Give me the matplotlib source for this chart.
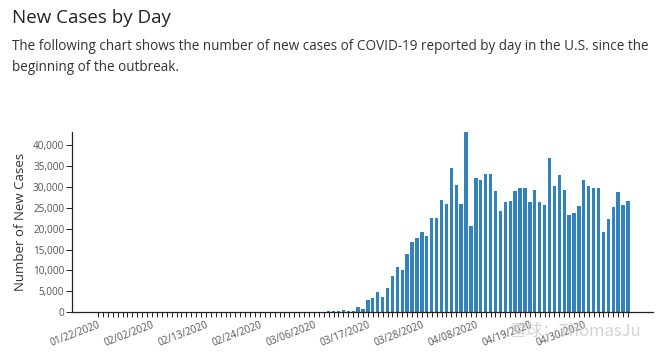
import pandas as pd
import numpy as np
import matplotlib
matplotlib.use("Agg")
import matplotlib.pyplot as plt
from matplotlib.ticker import FuncFormatter

plt.rcParams['font.family'] = ['Open Sans', 'DejaVu Sans']

# daily new cases, 01/22/2020 .. 05/09/2020
start_date = '2020-01-22'
jan_cases = [0, 0, 1, 0, 1, 0, 0, 0, 0, 1]
feb_cases = [0, 1, 0, 0, 1, 0, 0, 0, 0, 1, 1, 0, 1, 0, 0, 0, 0, 0, 0, 0,
             2, 0, 1, 2, 5, 3, 3, 4, 6]
mar_cases = [5, 10, 20, 25, 30, 40, 50, 60, 250, 350, 250, 400, 300, 350,
             1200, 700, 2800, 3400, 4700, 3500, 5800, 8700, 10800, 10100,
             14000, 16900, 17800, 19200, 18200, 22500, 22500]
apr_cases = [26900, 25900, 34600, 30600, 25900, 43300, 20600, 32200, 31600,
             33100, 33100, 29000, 24200, 26300, 26700, 29000, 29800, 29800,
             26300, 29400, 26300, 25700, 37000, 30200, 32800, 29200, 23400,
             23800, 25400, 31700]
may_cases = [30200, 29800, 29800, 19100, 22300, 25100, 28800, 25800, 26600]

cases = jan_cases + feb_cases + mar_cases + apr_cases + may_cases
dates = pd.date_range(start_date, periods=len(cases), freq='D')
date_labels = dates.strftime('%m/%d/%Y')
label_every = 11

y_ticks = [0, 5000, 10000, 15000, 20000, 25000, 30000, 35000, 40000]

title = 'New Cases by Day'
subtitle_lines = ['The following chart shows the number of new cases of COVID-19 reported by day in the U.S. since the',
                  'beginning of the outbreak.']
y_label = 'Number of New Cases'

fig = plt.figure(figsize=(6.6, 3.52), dpi=100)
ax = fig.add_axes([72 / 660, 40 / 352, 581 / 660, 180.3 / 352])

x = np.arange(len(cases))
ax.bar(x, cases, width=0.68, color='#3182bd')

ax.set_xlim(-5.3, len(cases) - 1 + 5.1)
ax.set_ylim(0, max(cases))

ax.set_xticks(x)
ax.set_xticklabels([lab if i % label_every == 0 else '' for i, lab in enumerate(date_labels)],
                   rotation=21, ha='right', va='top', rotation_mode='anchor')
ax.set_yticks(y_ticks)
ax.yaxis.set_major_formatter(FuncFormatter(lambda v, p: f'{int(v):,}'))

for s in ['top', 'right']:
    ax.spines[s].set_visible(False)
for s in ['left', 'bottom']:
    ax.spines[s].set_color('#222222')
    ax.spines[s].set_linewidth(0.9)

ax.tick_params(axis='x', length=3.5, width=0.7, color='#222222', labelsize=7.2,
               labelcolor='#555555', pad=2)
ax.tick_params(axis='y', length=4, width=0.7, color='#222222', labelsize=7.2,
               labelcolor='#555555', pad=1.5)

ax.set_ylabel(y_label, fontsize=9.5, color='#333333', labelpad=4)

fig.text(12 / 660, 1 - 23 / 352, title, fontsize=13.5, color='#222222', va='baseline')
# two subtitle lines, baselines at ~50 and ~71 px from the top
fig.text(12 / 660, 1 - 50 / 352, subtitle_lines[0], fontsize=9.75, color='#333333', va='baseline')
fig.text(12 / 660, 1 - 71 / 352, subtitle_lines[1], fontsize=9.75, color='#333333', va='baseline')

# platform watermark
fig.text(510 / 660, 1 - 336 / 352, '雪球：ThomasJu', fontsize=12,
         family=['Noto Sans CJK SC', 'DejaVu Sans'], color='#c8c8c8', alpha=0.8)

fig.savefig('out.png', dpi=100)
